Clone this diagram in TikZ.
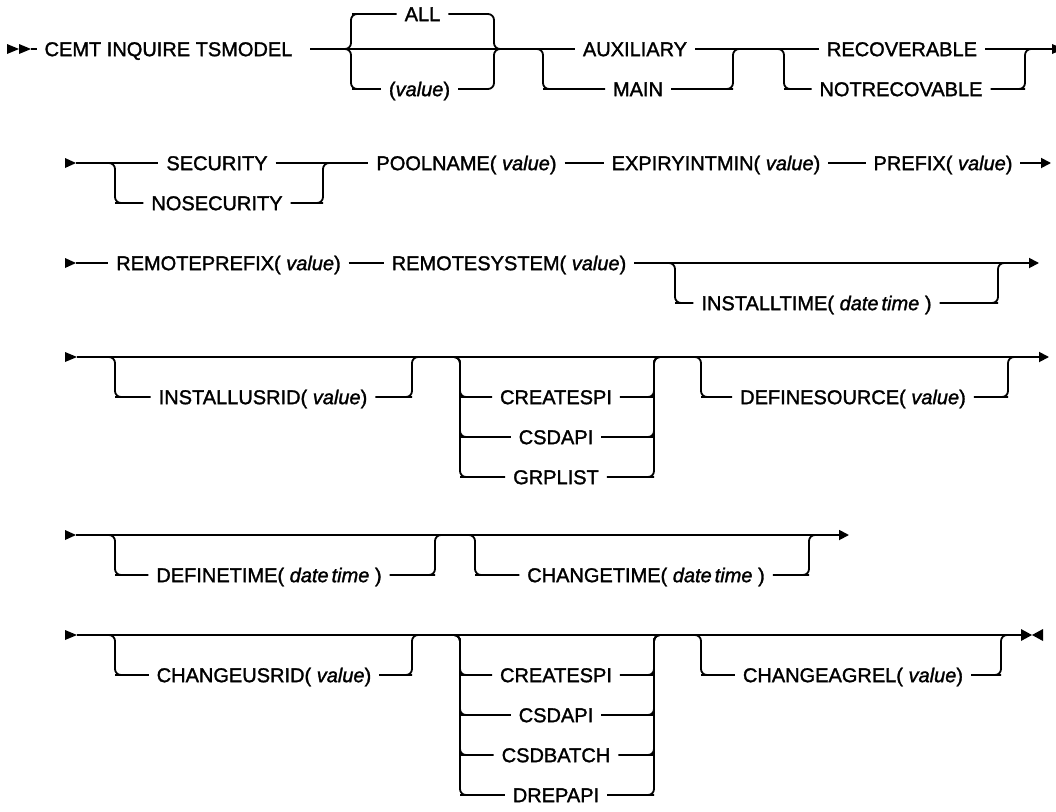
\documentclass[tikz,border=0pt]{standalone}
\usepackage{fontspec}
\setmainfont{Liberation Sans}
\newfontfamily\kwfamily[FakeBold=1.5]{Liberation Sans}
\usepackage{tikz}
\usetikzlibrary{arrows.meta, positioning}

\newcommand{\kwfont}{\kwfamily\fontsize{20}{24}\selectfont}
\newcommand{\pval}{\textit{value}}
\newcommand{\pdt}{\textit{date\kern3pt time}}

\tikzset{
  kw/.style={font=\kwfont, inner xsep=8pt, inner ysep=0pt, outer sep=0pt, text height=14.3pt, text depth=0pt},
  rail/.style={line width=1.8pt, rounded corners=6pt},
  go/.style={rail, -{Triangle[length=10pt,width=10pt]}},
}

\begin{document}
\begin{tikzpicture}[x=1pt, y=-1pt]
\useasboundingbox (0,0) rectangle (1056,811);

% Row 1
\fill (7,44) -- (7,54) -- (19,49) -- cycle;
\fill (19,44) -- (19,54) -- (31,49) -- cycle;
\node[kw] (cemt) at (168.5,49) {CEMT INQUIRE TSMODEL};
\node[kw] (all) at (422.5,14) {ALL};
\node[kw] (val) at (419.5,89) {(\pval)};
\node[kw] (aux) at (635,49) {AUXILIARY};
\node[kw] (main) at (638,89) {MAIN};
\node[kw] (rec) at (902,49) {RECOVERABLE};
\node[kw] (notrec) at (901,89) {NOTRECOVABLE};
\draw[rail] (31,49) -- (cemt.west);
\draw[rail] ([xshift=10pt]cemt.east) -- (aux.west);
\draw[rail] (aux.east) -- (rec.west);
\draw[rail] (rec.east) -- (1056,49);
% ALL above, value below
\draw[rail] (344,49) -- (351,49) -- (351,14) -- (358,14) -- (all.west);
\draw[rail] (344,49) -- (351,49) -- (351,89) -- (358,89) -- (val.west);
\draw[rail] (all.east) -- (494,14) -- (494,49) -- (501,49);
\draw[rail] (val.east) -- (494,89) -- (494,49) -- (501,49);
% AUXILIARY or MAIN
\draw[rail] (537,49) -- (543,49) -- (543,89) -- (549,89) -- (main.west);
\draw[rail] (main.east) -- (727,89) -- (733,89) -- (733,49) -- (739,49);
% RECOVERABLE or NOTRECOVABLE
\draw[rail] (778,49) -- (784,49) -- (784,89) -- (790,89) -- (notrec.west);
\draw[rail] (notrec.east) -- (1019,89) -- (1025,89) -- (1025,49) -- (1031,49);
% tip cut by the edge
\begin{scope}
\clip (0,0) rectangle (1056,811);
\fill (1052,44) -- (1052,54) -- (1064,49) -- cycle;
\end{scope}

% Row 2
\fill (65,158) -- (65,168) -- (76,163) -- cycle;
\node[kw] (sec) at (217,163) {SECURITY};
\node[kw] (nosec) at (217,203) {NOSECURITY};
\node[kw] (pool) at (466.5,163) {POOLNAME( \pval)};
\node[kw] (expiry) at (716,163) {EXPIRYINTMIN( \pval)};
\node[kw] (prefix) at (943,163) {PREFIX( \pval)};
\draw[rail] (76,163) -- (sec.west);
\draw[rail] (sec.east) -- (pool.west);
\draw[rail] (pool.east) -- (expiry.west);
\draw[rail] (expiry.east) -- (prefix.west);
\draw[go] (prefix.east) -- (1051,163);
\draw[rail] (109,163) -- (115,163) -- (115,203) -- (121,203) -- (nosec.west);
\draw[rail] (nosec.east) -- (317,203) -- (323,203) -- (323,163) -- (329,163);

% Row 3
\fill (65,258) -- (65,268) -- (76,263) -- cycle;
\node[kw] (rpre) at (228.5,263) {REMOTEPREFIX( \pval)};
\node[kw] (rsys) at (509,263) {REMOTESYSTEM( \pval)};
\node[kw] (itime) at (816.5,303) {INSTALLTIME( \pdt\ )};
\draw[rail] (76,263) -- (rpre.west);
\draw[rail] (rpre.east) -- (rsys.west);
\draw[go] (rsys.east) -- (1039,263);
\draw[rail] (669,263) -- (675,263) -- (675,303) -- (681,303) -- (itime.west);
\draw[rail] (itime.east) -- (992,303) -- (998,303) -- (998,263) -- (1004,263);

% Row 4
\fill (65,352) -- (65,362) -- (77,357) -- cycle;
\draw[go] (77,357) -- (1049,357);
\node[kw] (iusr) at (263,397) {INSTALLUSRID( \pval)};
\node[kw] (crspi) at (556,397) {CREATESPI};
\node[kw] (csdapi) at (556,437) {CSDAPI};
\node[kw] (grp) at (556,477) {GRPLIST};
\node[kw] (dsrc) at (853,397) {DEFINESOURCE( \pval)};
\draw[rail] (109,357) -- (115,357) -- (115,397) -- (121,397) -- (iusr.west);
\draw[rail] (iusr.east) -- (406,397) -- (412,397) -- (412,357) -- (418,357);
\draw[rail] (454,357) -- (460,357) -- (460,397) -- (466,397) -- (crspi.west);
\draw[rail] (454,357) -- (460,357) -- (460,437) -- (466,437) -- (csdapi.west);
\draw[rail] (454,357) -- (460,357) -- (460,477) -- (466,477) -- (grp.west);
\draw[rail] (crspi.east) -- (648,397) -- (654,397) -- (654,357) -- (660,357);
\draw[rail] (csdapi.east) -- (648,437) -- (654,437) -- (654,357) -- (660,357);
\draw[rail] (grp.east) -- (648,477) -- (654,477) -- (654,357) -- (660,357);
\draw[rail] (695,357) -- (701,357) -- (701,397) -- (707,397) -- (dsrc.west);
\draw[rail] (dsrc.east) -- (1002,397) -- (1008,397) -- (1008,357) -- (1014,357);

% Row 5
\fill (65,530) -- (65,540) -- (76,535) -- cycle;
\draw[go] (76,535) -- (849,535);
\node[kw] (dtime) at (269,575) {DEFINETIME( \pdt\ )};
\node[kw] (ctime) at (646,575) {CHANGETIME( \pdt\ )};
\draw[rail] (109,535) -- (115,535) -- (115,575) -- (121,575) -- (dtime.west);
\draw[rail] (dtime.east) -- (429,575) -- (435,575) -- (435,535) -- (441,535);
\draw[rail] (469,535) -- (475,535) -- (475,575) -- (481,575) -- (ctime.west);
\draw[rail] (ctime.east) -- (803,575) -- (809,575) -- (809,535) -- (815,535);

% Row 6
\fill (65,630) -- (65,640) -- (77,635) -- cycle;
\draw[rail] (77,635) -- (1021,635);
\fill (1021,629) -- (1021,641) -- (1032,635) -- cycle;
\fill (1043,629) -- (1043,641) -- (1032,635) -- cycle;
\node[kw] (cusr) at (264,675) {CHANGEUSRID( \pval)};
\node[kw] (crspib) at (556,675) {CREATESPI};
\node[kw] (csdapib) at (556,715) {CSDAPI};
\node[kw] (csdb) at (556,755) {CSDBATCH};
\node[kw] (drep) at (556,795) {DREPAPI};
\node[kw] (cagrel) at (853,675) {CHANGEAGREL( \pval)};
\draw[rail] (109,635) -- (115,635) -- (115,675) -- (121,675) -- (cusr.west);
\draw[rail] (cusr.east) -- (406,675) -- (412,675) -- (412,635) -- (418,635);
\draw[rail] (454,635) -- (460,635) -- (460,675) -- (466,675) -- (crspib.west);
\draw[rail] (454,635) -- (460,635) -- (460,715) -- (466,715) -- (csdapib.west);
\draw[rail] (454,635) -- (460,635) -- (460,755) -- (466,755) -- (csdb.west);
\draw[rail] (454,635) -- (460,635) -- (460,795) -- (466,795) -- (drep.west);
\draw[rail] (crspib.east) -- (648,675) -- (654,675) -- (654,635) -- (660,635);
\draw[rail] (csdapib.east) -- (648,715) -- (654,715) -- (654,635) -- (660,635);
\draw[rail] (csdb.east) -- (648,755) -- (654,755) -- (654,635) -- (660,635);
\draw[rail] (drep.east) -- (648,795) -- (654,795) -- (654,635) -- (660,635);
\draw[rail] (695,635) -- (701,635) -- (701,675) -- (707,675) -- (cagrel.west);
\draw[rail] (cagrel.east) -- (995,675) -- (1001,675) -- (1001,635) -- (1007,635);
\end{tikzpicture}
\end{document}
